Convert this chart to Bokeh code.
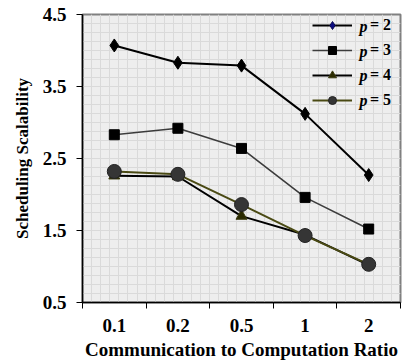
from bokeh.plotting import figure
from bokeh.models import (ColumnDataSource, FixedTicker, Legend, LegendItem,
                          Label, Grid, SingleIntervalTicker)
from bokeh.embed import file_html
from bokeh.resources import INLINE

categories = ["0.1", "0.2", "0.5", "1", "2"]
p2 = [4.07, 3.83, 3.79, 3.12, 2.27]
p3 = [2.83, 2.92, 2.64, 1.96, 1.52]
p4 = [2.26, 2.25, 1.70, 1.44, 1.02]
p5 = [2.32, 2.28, 1.86, 1.43, 1.03]
series_names = ["2", "3", "4", "5"]
y_ticks = [0.5, 1.5, 2.5, 3.5, 4.5]

xpos = [i + 0.5 for i in range(len(categories))]
src = ColumnDataSource(dict(x=xpos, p2=p2, p3=p3, p4=p4, p5=p5))

FONT = "Liberation Serif"

p = figure(width=403, height=360, output_backend="svg", toolbar_location=None,
           x_range=(0, len(categories)), y_range=(0.5, 4.5),
           frame_width=318, frame_height=288,
           min_border_left=82, min_border_right=3, min_border_top=14,
           min_border_bottom=58)

p.background_fill_color = "#eeeeee"
p.border_fill_color = "white"
p.outline_line_color = "#808080"
p.outline_line_width = 2
p.xgrid.visible = False
p.ygrid.visible = False

# fine background grid
p.add_layout(Grid(dimension=0, ticker=SingleIntervalTicker(interval=len(categories) / 35),
                  grid_line_color="#dadada", grid_line_width=1))
p.add_layout(Grid(dimension=1, ticker=SingleIntervalTicker(interval=0.125),
                  grid_line_color="#dadada", grid_line_width=1))

# axes
xa = p.xaxis[0]
xa.ticker = FixedTicker(ticks=xpos, minor_ticks=list(range(len(categories) + 1)))
xa.major_label_overrides = {x: c for x, c in zip(xpos, categories)}
xa.major_tick_out = 0
xa.major_tick_in = 0
xa.minor_tick_out = 6
xa.minor_tick_in = 0
xa.minor_tick_line_color = "black"
xa.axis_line_color = "black"
xa.axis_line_width = 1.5
xa.major_label_text_font = FONT
xa.major_label_text_font_style = "bold"
xa.major_label_text_font_size = "19px"
xa.major_label_text_color = "black"
xa.major_label_standoff = 10
xa.axis_label = "Communication to Computation Ratio"
xa.axis_label_text_font = FONT
xa.axis_label_text_font_style = "bold"
xa.axis_label_text_font_size = "19px"
xa.axis_label_text_color = "black"
xa.axis_label_standoff = 4

ya = p.yaxis[0]
ya.ticker = FixedTicker(ticks=y_ticks)
ya.minor_tick_out = 0
ya.minor_tick_in = 0
ya.major_tick_out = 6
ya.major_tick_in = 0
ya.major_tick_line_color = "black"
ya.axis_line_color = "black"
ya.axis_line_width = 1.5
ya.major_label_text_font = FONT
ya.major_label_text_font_style = "bold"
ya.major_label_text_font_size = "19px"
ya.major_label_text_color = "black"
ya.major_label_standoff = 10
ya.axis_label = "Scheduling Scalability"
ya.axis_label_text_font = FONT
ya.axis_label_text_font_style = "bold"
ya.axis_label_text_font_size = "17px"
ya.axis_label_text_color = "black"
ya.axis_label_standoff = 8

# series
l2 = p.line("x", "p2", source=src, line_color="black", line_width=2)
m2 = p.scatter("x", "p2", source=src, marker="diamond", size=13,
               fill_color="black", line_color="black")
l3 = p.line("x", "p3", source=src, line_color="#3c3c3c", line_width=1.6)
m3 = p.scatter("x", "p3", source=src, marker="square", size=10,
               fill_color="black", line_color="black")
l4 = p.line("x", "p4", source=src, line_color="black", line_width=2)
m4 = p.scatter("x", "p4", source=src, marker="triangle", size=11,
               fill_color="#2a2a00", line_color="#3a3a10")
l5 = p.line("x", "p5", source=src, line_color="#4a4a14", line_width=2)
m5 = p.scatter("x", "p5", source=src, marker="circle", size=14,
               fill_color="#353535", line_color="#222222")

lm2 = p.scatter("x", "p2", source=src, marker="diamond", size=10,
                fill_color="#0a0a80", line_color="#0a0a50", visible=False)

items = [
    LegendItem(label="= " + series_names[0], renderers=[l2, lm2]),
    LegendItem(label="= " + series_names[1], renderers=[l3, m3]),
    LegendItem(label="= " + series_names[2], renderers=[l4, m4]),
    LegendItem(label="= " + series_names[3], renderers=[l5, m5]),
]
legend = Legend(items=items, location=(230, 192), orientation="vertical",
                glyph_width=40, glyph_height=20, label_height=20,
                spacing=5, padding=0, margin=0, label_standoff=18,
                border_line_alpha=0, background_fill_alpha=0,
                label_text_font=FONT, label_text_font_style="bold",
                label_text_font_size="16px", label_text_color="black")
p.add_layout(legend, "center")

row_y = [4.5 - 12 / 72 - i * 24.5 / 72 for i in range(len(series_names))]
for yy in row_y:
    p.add_layout(Label(x=277 / 318 * len(categories), y=yy, text="p",
                       text_font=FONT, text_font_style="bold italic",
                       text_font_size="16px", text_baseline="middle",
                       text_color="black"))

open("out.html", "w").write(file_html(p, INLINE))
